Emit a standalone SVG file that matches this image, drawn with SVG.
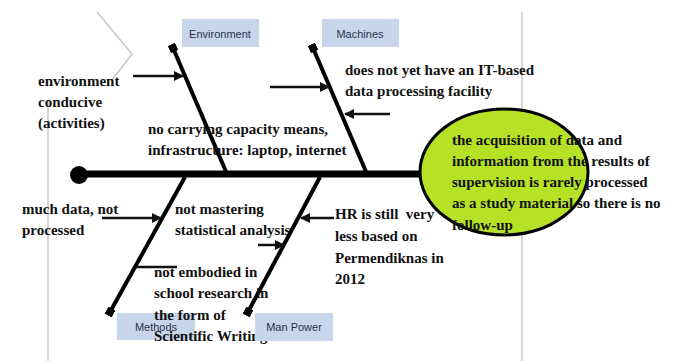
<svg xmlns="http://www.w3.org/2000/svg" width="685" height="361" viewBox="0 0 685 361">
<defs>
<style>
.t{font-family:"Liberation Serif","Times New Roman",serif;font-weight:bold;font-size:15px;fill:#111}
.lbl{font-family:"Liberation Sans",Arial,sans-serif;font-size:11px;fill:#28324a}
.box{fill:#c7d6ea}
.bone{stroke:#000;stroke-width:4;fill:none}
.arr{stroke:#111;stroke-width:2.5;fill:none}
.gray{stroke:#c8c8c8;stroke-width:1.5;fill:none}
</style>
<marker id="ah" viewBox="0 0 10 10" refX="9" refY="5" markerWidth="4" markerHeight="4" orient="auto" markerUnits="strokeWidth">
<path d="M0,0 L10,5 L0,10 Z" fill="#111"/>
</marker>
<marker id="sq" viewBox="0 0 10 10" refX="5" refY="5" markerWidth="2" markerHeight="2" orient="auto" markerUnits="strokeWidth">
<rect x="0" y="0" width="10" height="10" fill="#000"/>
</marker>
</defs>
<rect width="685" height="361" fill="#fff"/>
<g id="frame">
<polyline class="gray" points="97,12 132,54 112,80"/>
<line class="gray" x1="48" y1="100" x2="48" y2="361"/>
<line class="gray" x1="522" y1="12" x2="522" y2="361"/>
</g>
<g id="connectors">
<line x1="79" y1="174" x2="425" y2="174" stroke="#000" stroke-width="7"/>
<circle cx="79" cy="175" r="9" fill="#000"/>
<line class="bone" x1="227" y1="174" x2="173" y2="48" marker-end="url(#sq)"/>
<line class="bone" x1="367" y1="174" x2="313" y2="48" marker-end="url(#sq)"/>
<line class="bone" x1="185" y1="177" x2="110" y2="312" marker-end="url(#sq)"/>
<line class="bone" x1="320" y1="177" x2="248" y2="312" marker-end="url(#sq)"/>
<line class="arr" x1="133" y1="76" x2="183" y2="76" marker-end="url(#ah)"/>
<line class="arr" x1="270" y1="87" x2="329" y2="87" marker-end="url(#ah)"/>
<line class="arr" x1="390" y1="114" x2="345" y2="114" marker-end="url(#ah)"/>
<line class="arr" x1="102" y1="218" x2="161" y2="218" marker-end="url(#ah)"/>
<line class="arr" x1="136" y1="267" x2="177" y2="267"/>
<line class="arr" x1="334" y1="218" x2="301" y2="218" marker-end="url(#ah)"/>
<line class="arr" x1="258" y1="245" x2="284" y2="245" marker-end="url(#ah)"/>
</g>
<g id="effect">
<ellipse cx="504" cy="172" rx="84" ry="63" fill="#b5e225" stroke="#000" stroke-width="3"/>
<text class="t" x="452" y="145">the acquisition of data and</text>
<text class="t" x="452" y="166">information from the results of</text>
<text class="t" x="452" y="187">supervision is rarely processed</text>
<text class="t" x="452" y="208">as a study material so there is no</text>
<text class="t" x="452" y="230">follow-up</text>
</g>
<g id="environment">
<rect class="box" x="182" y="19" width="77" height="28"/>
<text class="lbl" x="220" y="38" text-anchor="middle">Environment</text>
<text class="t" x="38" y="86">environment</text>
<text class="t" x="38" y="107">conducive</text>
<text class="t" x="38" y="128">(activities)</text>
<text class="t" x="148" y="134">no carrying capacity means,</text>
<text class="t" x="148" y="155">infrastructure: laptop, internet</text>
</g>
<g id="machines">
<rect class="box" x="322" y="19" width="77" height="28"/>
<text class="lbl" x="360" y="38" text-anchor="middle">Machines</text>
<text class="t" x="345" y="75">does not yet have an IT-based</text>
<text class="t" x="345" y="96">data processing facility</text>
</g>
<g id="methods">
<rect class="box" x="117" y="313" width="78" height="27"/>
<text class="lbl" x="156" y="331" text-anchor="middle">Methods</text>
<text class="t" x="22" y="214">much data, not</text>
<text class="t" x="22" y="235">processed</text>
<text class="t" x="175" y="214">not mastering</text>
<text class="t" x="175" y="235">statistical analysis</text>
<text class="t" x="154" y="277">not embodied in</text>
<text class="t" x="154" y="298">school research in</text>
<text class="t" x="154" y="320">the form of</text>
<text class="t" x="154" y="341">Scientific Writing</text>
</g>
<g id="man-power">
<rect class="box" x="255" y="313" width="78" height="28"/>
<text class="lbl" x="294" y="331" text-anchor="middle">Man Power</text>
<text class="t" x="335" y="219" xml:space="preserve">HR is still  very</text>
<text class="t" x="335" y="241">less based on</text>
<text class="t" x="335" y="263">Permendiknas in</text>
<text class="t" x="335" y="284">2012</text>
</g>
</svg>
